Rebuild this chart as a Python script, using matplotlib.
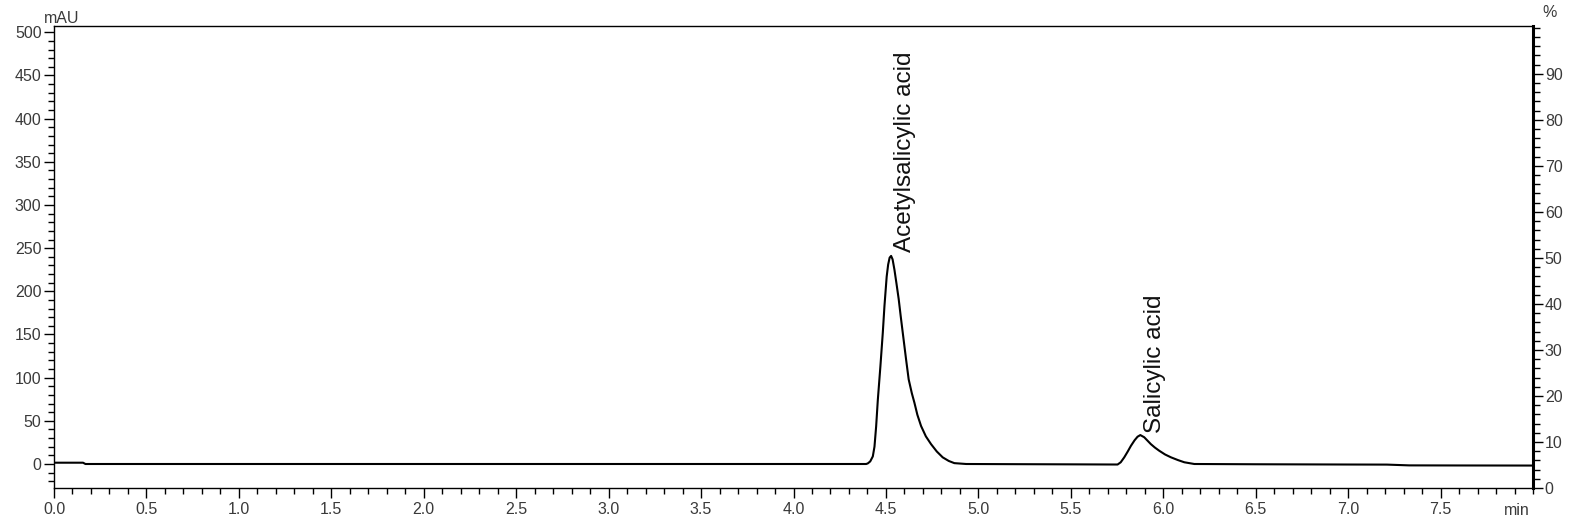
import matplotlib
matplotlib.use("Agg")
import matplotlib.pyplot as plt
from matplotlib.ticker import MultipleLocator, FormatStrFormatter
import matplotlib.transforms as mtransforms

plt.rcParams['font.family'] = ['Liberation Sans', 'DejaVu Sans']

# Retention time (min) and absorbance (mAU)
time_min = [0.000, 0.157, 0.170, 1.000, 2.000, 3.000, 4.000, 4.393, 4.402, 4.415,
            4.429, 4.438, 4.447, 4.456, 4.470, 4.483, 4.492, 4.504, 4.512, 4.520,
            4.528, 4.536, 4.546, 4.557, 4.569, 4.580, 4.591, 4.609, 4.623, 4.640,
            4.654, 4.670, 4.690, 4.716, 4.744, 4.775, 4.807, 4.840, 4.870, 4.934,
            5.200, 5.500, 5.753, 5.770, 5.789, 5.808, 5.825, 5.845, 5.861, 5.876,
            5.897, 5.915, 5.933, 5.955, 5.978, 6.010, 6.042, 6.080, 6.114, 6.168,
            6.500, 7.000, 7.210, 7.330, 7.600, 8.000]
signal_mau = [1.5, 1.5, 0.0, 0.0, 0.0, 0.0, 0.0, 0.0, 0.7, 3.0,
              8.8, 20.0, 43.5, 74.0, 113.0, 152.0, 183.0, 217.0, 231.0, 239.0,
              241.0, 237.0, 225.0, 209.0, 191.0, 171.0, 152.0, 121.0, 98.0, 82.0,
              71.0, 57.0, 44.0, 32.0, 23.0, 14.5, 7.7, 3.5, 1.0, 0.0,
              -0.2, -0.4, -0.6, 2.0, 7.7, 14.5, 21.0, 27.5, 31.6, 33.5,
              31.0, 27.0, 23.0, 19.0, 15.4, 11.0, 7.7, 4.5, 2.0, 0.0,
              -0.3, -0.6, -0.7, -1.6, -1.7, -1.8]

peak_names = ["Acetylsalicylic acid", "Salicylic acid"]
peak_label_x = [4.605, 5.955]
peak_label_y = [245, 36]

y_left_lim = (-27.8, 507.3)
y_right_lim = (0, 100.4)

fig = plt.figure(figsize=(15.76, 5.29), dpi=100)
ax = fig.add_axes([54/1576, 1-488/529, (1533-54)/1576, (488-26)/529])

ax.plot(time_min, signal_mau, color='black', lw=1.5, solid_joinstyle='round')

for name, x, y in zip(peak_names, peak_label_x, peak_label_y):
    ax.text(x, y, name, rotation=90, ha='center', va='bottom', fontsize=17.5, color='#111111')

fs = 11.5
lbl_color = '#3a3a3a'

ax.set_xlim(0, 8.0)
ax.set_ylim(*y_left_lim)
ax.xaxis.set_minor_locator(MultipleLocator(0.1))
ax.yaxis.set_major_locator(MultipleLocator(50))
ax.yaxis.set_minor_locator(MultipleLocator(10))

ax.tick_params(axis='both', which='major', labelsize=fs, labelcolor=lbl_color, length=7.5, width=1.0, pad=1.5, direction='out')
ax.tick_params(axis='both', which='minor', length=4, width=1.0, direction='out')
ax.tick_params(axis='x', which='major', pad=2.5)

xt = [i * 0.5 for i in range(16)]
ax.set_xticks(xt)
ax.set_xticklabels(['%.1f' % t for t in xt])
ax.set_xlim(0, 8.0)

for s in ['left', 'bottom', 'top']:
    ax.spines[s].set_linewidth(1.0)
ax.spines['right'].set_visible(False)

ax2 = ax.twinx()
ax2.set_ylim(*y_right_lim)
ax2.yaxis.set_minor_locator(MultipleLocator(2))
ax2.tick_params(axis='y', which='major', labelsize=fs, labelcolor=lbl_color, length=7.5, width=1.0, pad=1.0)
ax2.tick_params(axis='y', which='minor', length=5, width=1.0)
ax2.spines['right'].set_linewidth(2.2)
for s in ['left', 'bottom', 'top']:
    ax2.spines[s].set_visible(False)
ax2.set_yticks(list(range(0, 100, 10)))
ax2.set_ylim(*y_right_lim)

ax.text(0.005, 1.0, 'mAU', transform=ax.transAxes, ha='center', va='bottom', fontsize=fs, color=lbl_color)
ax2.text(1.0115, 1.012, '%', transform=ax.transAxes, ha='center', va='bottom', fontsize=fs, color=lbl_color)
trans = mtransforms.blended_transform_factory(ax.transData, ax.transAxes)
ax.text(7.91, -0.033, 'min', transform=trans, ha='center', va='top', fontsize=fs, color=lbl_color)

fig.savefig('out.png', dpi=100)
